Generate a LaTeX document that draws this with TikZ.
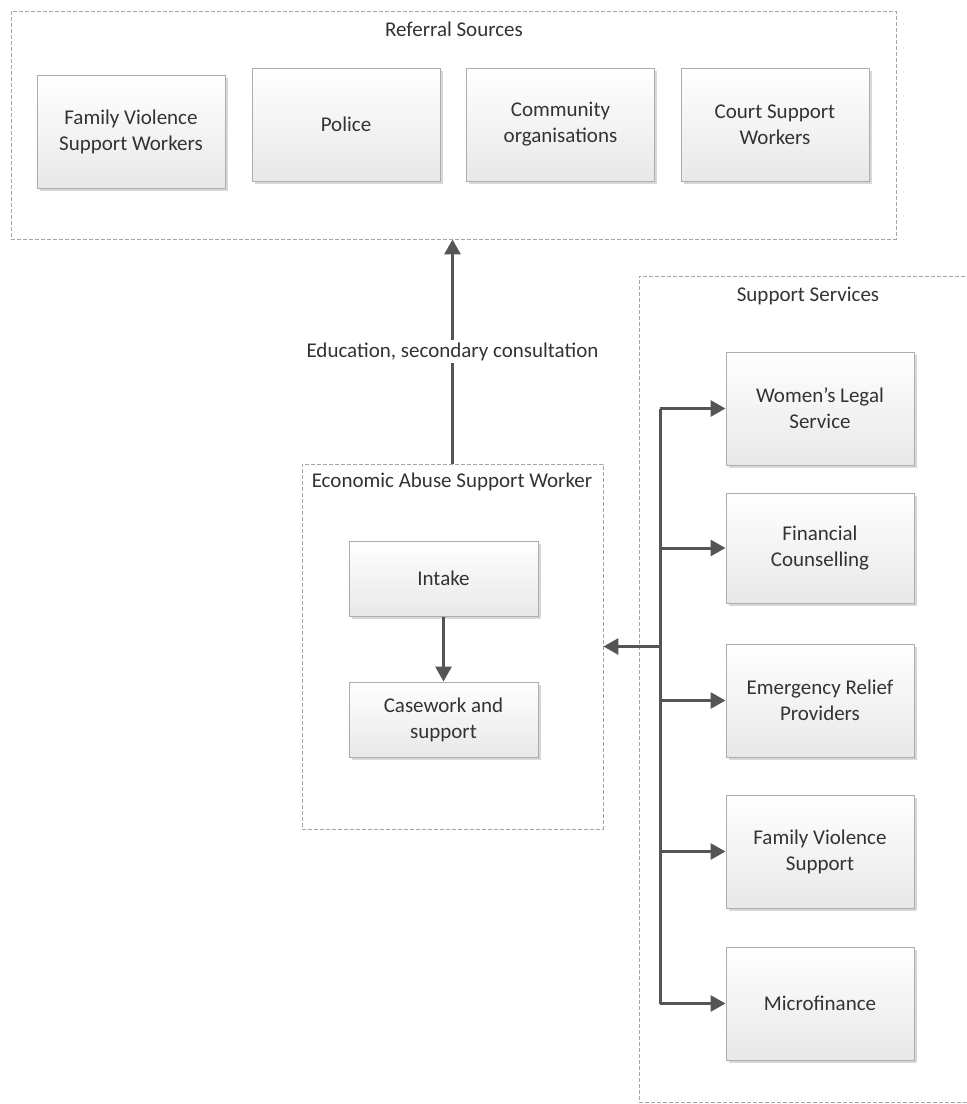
\documentclass[tikz,border=0pt]{standalone}
\usepackage{fontspec}
\setmainfont{Carlito}
\usetikzlibrary{arrows.meta,shadows}
\definecolor{txt}{HTML}{333333}
\definecolor{boxline}{HTML}{ADADAD}
\definecolor{dashline}{HTML}{A5A5A5}
\definecolor{arrowc}{HTML}{555555}
\tikzset{
  every node/.style={font=\fontsize{21}{26}\selectfont, text=txt},
  item/.style={draw=boxline, line width=1pt, top color=white, bottom color=black!9,
    minimum width=188pt, minimum height=113pt, align=center, inner sep=2pt,
    drop shadow={shadow xshift=2.5pt, shadow yshift=-2.5pt, fill=black!30, opacity=0.5}},
  smallitem/.style={item, minimum width=189pt, minimum height=75pt},
  container/.style={draw=dashline, line width=0.9pt, dash pattern=on 4pt off 2pt, inner sep=0pt},
  title/.style={inner sep=1pt},
  arr/.style={draw=arrowc, line width=3pt, -{Triangle[length=15pt,width=16pt]}},
  trunk/.style={draw=arrowc, line width=3pt},
}
\begin{document}
\begin{tikzpicture}[x=1pt,y=-1pt]
\useasboundingbox[fill=white] (0,0) rectangle (967,1104);

% Referral sources
\node[container, minimum width=885pt, minimum height=228pt] (ref) at (453.5,125) {};
\node[title] (reft) at (454,29) {Referral Sources};
\node[item] (fvsw) at (131,132) {Family Violence\\Support Workers};
\node[item] (police) at (346,124.5) {Police};
\node[item] (comm) at (560.5,124.5) {Community\\organisations};
\node[item] (court) at (775,124.5) {Court Support\\Workers};

% Economic abuse support worker
\node[container, minimum width=301pt, minimum height=365pt] (easw) at (452.5,646.5) {};
\node[title] (easwt) at (452,482) {Economic Abuse Support Worker};
\node[smallitem] (intake) at (443.5,578.5) {Intake};
\node[smallitem] (case) at (443.5,719.5) {Casework and\\support};
\draw[arr] (intake.south) -- (case.north);

% Support services
\node[container, minimum width=350pt, minimum height=826pt] (supp) at (814,689) {};
\node[title] (suppt) at (808,296) {Support Services};
\node[item] (wls) at (820,408.5) {Women’s Legal\\Service};
\node[item, minimum height=110pt] (fc) at (820,548) {Financial\\Counselling};
\node[item] (erp) at (820,700.5) {Emergency Relief\\Providers};
\node[item] (fvs) at (820,851.5) {Family Violence\\Support};
\node[item] (micro) at (820,1003.5) {Microfinance};

% connectors
\coordinate (ttop) at (660,408.5);
\coordinate (tbot) at (660,1003.5);
\coordinate (tj) at (660,646.5);
\draw[trunk] (ttop) -- (tbot);
\draw[arr] (ttop) -- (wls.west);
\draw[arr] (fc.west -| ttop) -- (fc.west);
\draw[arr] (erp.west -| ttop) -- (erp.west);
\draw[arr] (fvs.west -| ttop) -- (fvs.west);
\draw[arr] (tbot) -- (micro.west);
\draw[arr] (tj) -- (easw.east);

\draw[arr] (easw.north) -- node[fill=white, inner sep=3pt] (lab) {Education, secondary consultation} (easw.north |- ref.south);
\end{tikzpicture}
\end{document}
